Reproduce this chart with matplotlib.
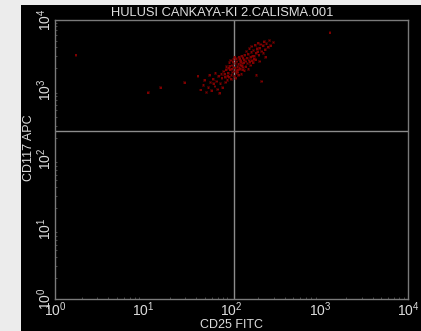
import matplotlib
matplotlib.use("Agg")
import matplotlib.pyplot as plt
import numpy as np
from matplotlib.patches import Rectangle
from matplotlib.ticker import LogLocator, FixedLocator

plt.rcParams['font.family'] = ['Liberation Sans', 'DejaVu Sans']
plt.rcParams['mathtext.fontset'] = 'custom'
plt.rcParams['mathtext.rm'] = 'Liberation Sans'
plt.rcParams['mathtext.it'] = 'Liberation Sans'

title = "HULUSI CANKAYA-KI 2.CALISMA.001"
xlabel = "CD25 FITC"
ylabel = "CD117 APC"
tick_values = [1, 10, 100, 1000, 10000]
tick_labels = [r"$10^{0}$", r"$10^{1}$", r"$10^{2}$", r"$10^{3}$", r"$10^{4}$"]
quad_x = 107
quad_y = 256

cd25 = [45, 48, 52, 55, 58, 60, 62, 65, 68, 70, 72, 75, 78, 80, 50, 66, 74, 57, 63, 77,
        82, 85, 88, 90, 92, 95, 97, 100, 102, 105, 107, 110, 112, 115, 118, 120, 122, 125, 128, 130,
        132, 135, 138, 140, 86, 93, 99, 104, 108, 113, 117, 121, 126, 131, 136, 84, 96, 103, 111, 119,
        124, 129, 134, 139, 91, 106, 116, 127, 98, 109, 114, 123, 133, 87, 101, 94,
        142, 145, 148, 150, 155, 158, 160, 165, 168, 170, 175, 178, 180, 185, 190, 195, 200, 205, 210, 215,
        220, 228, 235, 240, 250, 260, 270, 280, 300, 152, 162, 172, 182, 198, 146, 156, 166, 176, 188, 230,
        245, 210, 192, 220,
        11.4, 15.8, 1.73, 29.7, 1306, 41.7]
cd117 = [980, 1150, 900, 1050, 1250, 950, 1400, 1100, 1300, 1000, 1550, 1200, 1450, 1050, 1350, 1700, 880, 1600, 1200, 1650,
         1800, 1500, 2100, 1350, 1700, 2400, 1900, 1600, 2200, 2700, 1800, 2000, 1450, 2500, 1750, 2300, 2900, 1950, 2600, 1650,
         2150, 2800, 2400, 1850, 1250, 2000, 1400, 2450, 1550, 2750, 2100, 1600, 2250, 3000, 2050, 1650, 2150, 1750, 2350, 1900,
         2700, 2200, 1900, 2650, 1550, 2050, 1850, 2450, 2600, 2900, 1700, 2050, 2350, 1900, 1950, 1500,
         3100, 2500, 3500, 2800, 3200, 2600, 3800, 2900, 3400, 4100, 3000, 3600, 2700, 4300, 3300, 3800, 4600, 3100, 3900, 4400,
         3500, 4200, 4800, 3700, 4500, 4000, 5000, 4200, 4700, 2350, 2450, 2550, 3000, 3450, 2100, 1950, 2200, 2400, 2650, 3300,
         2900, 2500, 1600, 1300,
         890, 1050, 3090, 1240, 6450, 1550]

W, H = 421, 331
fig = plt.figure(figsize=(W / 100, H / 100), dpi=100)
fig.patch.set_facecolor('#ececec')

bg = fig.add_axes([21 / W, 0, 1 - 21 / W, (H - 5) / H])
bg.set_axis_off()
bg.add_patch(Rectangle((0, 0), 1, 1, transform=bg.transAxes, facecolor='black', edgecolor='none'))
bg.set_zorder(0)

ax = fig.add_axes([55 / W, (H - 299) / H, 353 / W, 279.5 / H])
ax.set_zorder(1)
ax.set_facecolor('black')
ax.set_xscale('log')
ax.set_yscale('log')
ax.set_xlim(1, 10000)
ax.set_ylim(1, 10000)

ax.scatter(cd25, cd117, s=4.5, marker='s', color='#6e0000', edgecolors='none', alpha=0.5, zorder=3)
ax.scatter(cd25, cd117, s=1.5, marker='s', color='#900000', edgecolors='none', alpha=0.8, zorder=4)
ax.axvline(quad_x, color='#8c8c8c', lw=1.0, zorder=2)
ax.axhline(quad_y, color='#8c8c8c', lw=1.0, zorder=2)

for s in ax.spines.values():
    s.set_color('#7a7a7a')
    s.set_linewidth(1.0)

ax.xaxis.set_major_locator(FixedLocator(tick_values))
ax.yaxis.set_major_locator(FixedLocator(tick_values))
ax.set_xticklabels(tick_labels)
ax.set_yticklabels(tick_labels, rotation=90, va='center')
ax.xaxis.set_minor_locator(LogLocator(base=10, subs=np.arange(2, 10)))
ax.yaxis.set_minor_locator(LogLocator(base=10, subs=np.arange(2, 10)))
ax.tick_params(which='major', length=0, colors='#dcdcdc', labelsize=10)
ax.tick_params(axis='x', which='major', pad=1)
ax.tick_params(axis='y', which='major', pad=0.5)
ax.tick_params(which='minor', direction='in', length=1.5, width=0.6, color='#555555')

ax.set_xlabel(xlabel, color='#dcdcdc', fontsize=9, labelpad=0)
ax.set_ylabel(ylabel, color='#dcdcdc', fontsize=9)
ax.yaxis.set_label_coords(-0.058, 0.54)
fig.text(222 / W, 1 - 13 / H, title, color='#e0e0e0', fontsize=9.3, ha='center', va='center')

fig.savefig('out.png', dpi=100, facecolor=fig.get_facecolor())
